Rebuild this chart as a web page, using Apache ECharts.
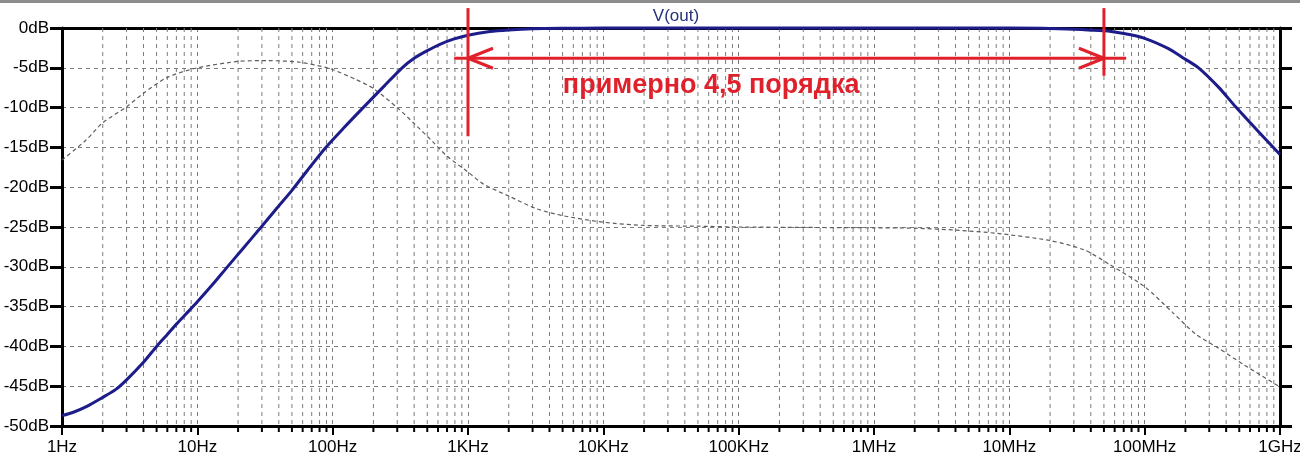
<!DOCTYPE html>
<html>
<head>
<meta charset="utf-8">
<script src="https://cdn.jsdelivr.net/npm/echarts@6/dist/echarts.min.js"></script>
<style>
html,body{margin:0;padding:0;background:#fff;}
#chart{width:1300px;height:464px;}
</style>
</head>
<body>
<div id="chart"></div>
<script>
// ---- data ----
const freqTickLabels = ['1Hz','10Hz','100Hz','1KHz','10KHz','100KHz','1MHz','10MHz','100MHz','1GHz'];
const minorMultipliers = [2,3,4,5,6,7,8,9];

const voutFreq = [1,1.2,1.5,2,2.5,3,4,5,6,7,8.6,10,13,16.5,22,29,38,50,65,88,120,168,240,326,400,500,620,780,1000,1450,2000,3000,5000,1e4,1e5,1e6,1e7,2e7,5e7,7e7,1e8,1.5e8,1.9e8,2.5e8,3.5e8,4.7e8,7e8,1e9];
const voutDb   = [-48.7,-48.3,-47.6,-46.4,-45.4,-44.2,-42.0,-40.0,-38.5,-37.2,-35.6,-34.4,-32.2,-30.1,-27.6,-25.2,-22.8,-20.4,-17.9,-15.1,-12.6,-10.0,-7.3,-5.0,-3.8,-2.85,-2.05,-1.4,-0.9,-0.45,-0.25,-0.1,-0.04,-0.01,0,0,0,-0.06,-0.35,-0.7,-1.3,-2.6,-3.7,-5.0,-7.4,-9.9,-13.1,-15.9];

const trace2Freq = [1,1.5,2,3,4,6,10,20,33,57,95,150,200,300,400,550,700,1000,1300,2050,3200,5100,1e4,2e4,5e4,1e5,1e6,2e6,4.1e6,8.1e6,2e7,3.6e7,5.5e7,1e8,1.6e8,2.4e8,3.5e8,5.4e8,1e9];
const trace2Db   = [-16.6,-14.1,-11.9,-9.9,-8.2,-6.2,-5.0,-4.2,-4.1,-4.3,-5.1,-6.5,-7.6,-10.0,-12.0,-14.3,-16.1,-18.1,-19.6,-21.2,-22.7,-23.6,-24.4,-24.8,-24.9,-25.0,-25.1,-25.15,-25.4,-25.8,-26.7,-27.9,-29.7,-32.5,-35.7,-38.5,-40.2,-42.3,-45.1];

const annoFreqs = [1000, 5e7];          // vertical red markers
const annoLineDb = [[2.5,-13.6],[2.5,-6.0]];
const arrowSpan = [790, 7.3e7];
const arrowDb = -3.8;
const annoText = 'примерно 4,5 порядка';
const annoTextAt = [6.26e4, -7.2];

// ---- build ----
const minorFreqs = [];
for (let k = 0; k < 9; k++) for (const m of minorMultipliers) minorFreqs.push([m * Math.pow(10, k), 0]);
const zip = (a, b) => a.map((v, i) => [v, b[i]]);

const FONT = 'Liberation Sans, Arial, sans-serif';
const GRID = '#7c7c7c';
const RED = '#e0202b';

const chart = echarts.init(document.getElementById('chart'), null, {renderer: 'canvas'});
const option = {
  animation: false,
  backgroundColor: '#fff',
  title: {
    text: 'V(out)', left: 671, top: 3, textAlign: 'center',
    textStyle: {fontFamily: FONT, fontSize: 17, fontWeight: 'normal', color: '#25307a'}
  },
  grid: {left: 62, right: 20, top: 28, bottom: 38, containLabel: false, outerBoundsMode: 'none'},
  xAxis: [{
    type: 'log', logBase: 10, min: 1, max: 1e9, splitNumber: 9,
    axisLine: {onZero: false, lineStyle: {color: '#000', width: 3}},
    axisTick: {show: true, length: 9, inside: false, lineStyle: {color: '#000', width: 2}},
    axisLabel: {
      margin: 13, color: '#000', fontFamily: FONT, fontSize: 17,
      formatter: v => freqTickLabels[Math.round(Math.log10(v))]
    },
    splitLine: {show: true, lineStyle: {color: GRID, width: 1, type: [4,4]}},
    minorTick: {show: false}, minorSplitLine: {show: false}
  }, {
    type: 'log', logBase: 10, min: 1, max: 1e9, position: 'top',
    axisLine: {onZero: false, lineStyle: {color: '#000', width: 3}},
    axisTick: {show: false}, axisLabel: {show: false}, splitLine: {show: false}
  }],
  yAxis: [{
    type: 'value', min: -50, max: 0, interval: 5,
    axisLine: {show: true, onZero: false, lineStyle: {color: '#000', width: 3}},
    axisTick: {show: true, length: 12, lineStyle: {color: '#000', width: 3}},
    axisLabel: {margin: 13, color: '#000', fontFamily: FONT, fontSize: 17, formatter: v => v + 'dB'},
    splitLine: {show: true, lineStyle: {color: GRID, width: 1, type: [4,4]}}
  }, {
    type: 'value', min: -50, max: 0, interval: 5, position: 'right',
    axisLine: {show: true, onZero: false, lineStyle: {color: '#000', width: 3}},
    axisTick: {show: true, length: 12, lineStyle: {color: '#000', width: 3}},
    axisLabel: {show: false}, splitLine: {show: false}
  }],
  series: [{
    type: 'custom', name: 'minor', z: 1, silent: true, clip: false,
    data: minorFreqs,
    renderItem: (params, api) => {
      const f = api.value(0);
      const t = api.coord([f, 0]);
      const b = api.coord([f, -50]);
      return {type: 'group', children: [
        {type: 'line', shape: {x1: t[0], y1: t[1], x2: b[0], y2: b[1]}, style: {stroke: GRID, lineWidth: 1, lineDash: [4,4]}},
        {type: 'line', shape: {x1: b[0], y1: b[1] + 1, x2: b[0], y2: b[1] + 6}, style: {stroke: '#000', lineWidth: 2}}
      ]};
    }
  }, {
    type: 'line', name: 'trace2', z: 3, showSymbol: false, smooth: 0.25, clip: false,
    data: zip(trace2Freq, trace2Db),
    lineStyle: {color: '#5e5e5e', width: 1.2, type: [4,3]}
  }, {
    type: 'line', name: 'V(out)', z: 4, showSymbol: false, smooth: 0.25, clip: false,
    data: zip(voutFreq, voutDb),
    lineStyle: {color: '#1c1c8a', width: 3}
  }]
};
chart.setOption(option);

// annotations positioned through the chart's own scales
const P = (f, db) => chart.convertToPixel({gridIndex: 0}, [f, db]);
const red = {stroke: RED, lineWidth: 3};
const g = [];
annoFreqs.forEach((f, i) => {
  const a = P(f, annoLineDb[i][0]), b = P(f, annoLineDb[i][1]);
  g.push({type: 'line', z: 100, shape: {x1: a[0], y1: a[1], x2: b[0], y2: b[1]}, style: red});
});
const aL = P(arrowSpan[0], arrowDb), aR = P(arrowSpan[1], arrowDb);
g.push({type: 'line', z: 100, shape: {x1: aL[0], y1: aL[1], x2: aR[0], y2: aR[1]}, style: red});
const tipL = P(annoFreqs[0], arrowDb), tipR = P(annoFreqs[1], arrowDb);
[[tipL, 1],[tipR, -1]].forEach(([tp, d]) => {
  g.push({type: 'line', z: 100, shape: {x1: tp[0], y1: tp[1], x2: tp[0] + d * 25, y2: tp[1] - 10}, style: red});
  g.push({type: 'line', z: 100, shape: {x1: tp[0], y1: tp[1], x2: tp[0] + d * 25, y2: tp[1] + 10}, style: red});
});
const tp = P(annoTextAt[0], annoTextAt[1]);
g.push({type: 'text', z: 100, x: tp[0], y: tp[1], style: {
  text: annoText, fill: RED, font: 'bold 27px ' + FONT, align: 'center', verticalAlign: 'middle'}});
// window frame line at the very top
g.push({type: 'rect', z: 100, shape: {x: 0, y: 0, width: 1300, height: 3}, style: {fill: '#8c8c8c'}});
chart.setOption({graphic: {elements: g}});
</script>
</body>
</html>
